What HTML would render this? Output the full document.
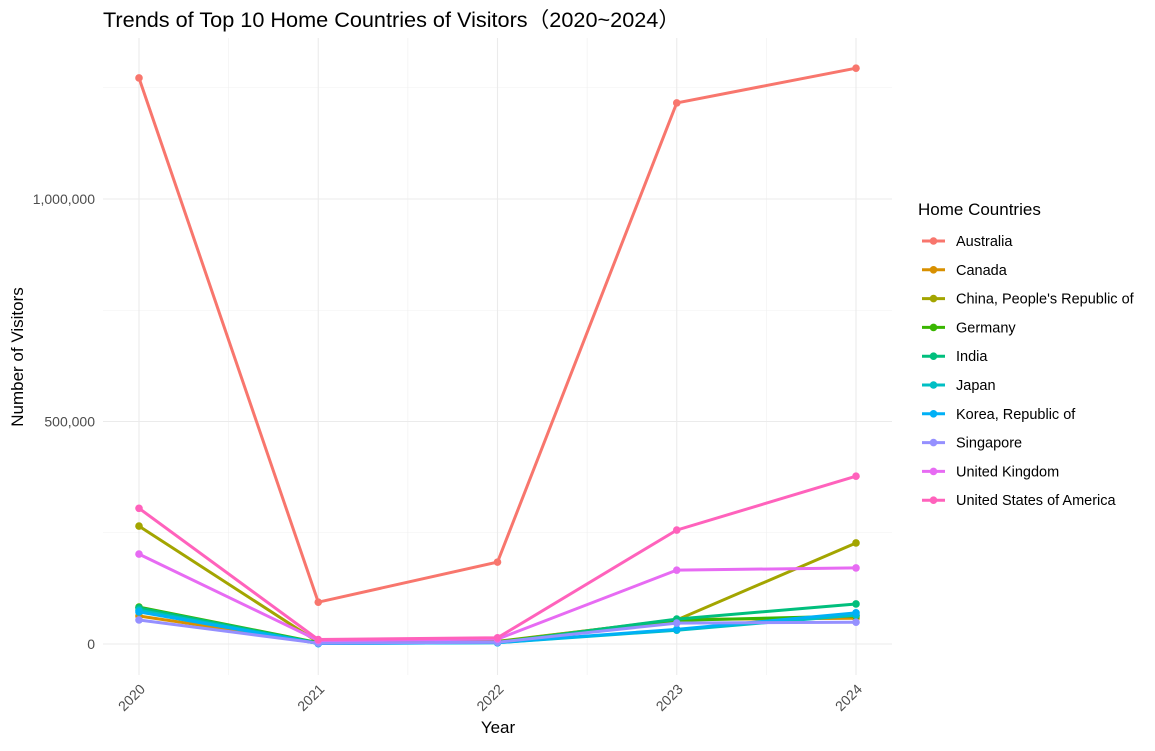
<!DOCTYPE html>
<html><head><meta charset="utf-8"><style>
body{margin:0;background:#fff;font-family:"Liberation Sans","Noto Sans CJK SC",sans-serif}
</style></head><body>
<svg id="chart" width="1155" height="746" xmlns="http://www.w3.org/2000/svg" font-family="Liberation Sans, Noto Sans CJK SC, sans-serif">
<text x="103" y="27" font-size="21" fill="#000" textLength="577" lengthAdjust="spacingAndGlyphs">Trends of Top 10 Home Countries of Visitors（2020~2024）</text>
<g id="grid"></g><g id="axes"></g><g id="series"></g><g id="legend"></g>
<text x="498" y="733" font-size="17" text-anchor="middle">Year</text>
<text transform="translate(23,357) rotate(-90)" font-size="17" text-anchor="middle">Number of Visitors</text>
</svg>
<script>
const years=[2020,2021,2022,2023,2024];
const countries=["Australia","Canada","China, People's Republic of","Germany","India","Japan","Korea, Republic of","Singapore","United Kingdom","United States of America"];
const colors=["#F8766D","#D89000","#A3A500","#39B600","#00BF7D","#00BFC4","#00B0F6","#9590FF","#E76BF3","#FF62BC"];
const australia=[1272000,94000,184000,1216000,1294000];
const canada=[63000,3000,5000,55000,58000];
const china=[265000,4000,6000,54000,227000];
const germany=[83000,3000,5000,53000,63000];
const india=[81000,2000,3000,56000,90000];
const japan=[76000,1000,3000,31000,65000];
const korea=[72000,1000,3000,33000,70000];
const singapore=[54000,2000,4000,47000,49000];
const uk=[202000,8000,11000,166000,171000];
const usa=[305000,10000,14000,256000,377000];
const values=[australia,canada,china,germany,india,japan,korea,singapore,uk,usa];
const yTicks=[0,500000,1000000];
const yTickLabels=["0","500,000","1,000,000"];
const NS="http://www.w3.org/2000/svg";
const x=v=>139+(v-2020)*(856-139)/4;
const y=v=>644-v*(644-199)/1000000;
function mk(tag,attrs,parent){const e=document.createElementNS(NS,tag);for(const k in attrs)e.setAttribute(k,attrs[k]);parent.appendChild(e);return e;}
const grid=document.getElementById('grid'),axes=document.getElementById('axes'),ser=document.getElementById('series'),leg=document.getElementById('legend');
for(let i=0;i<4;i++){const l=mk('line',{x1:x(2020.5+i),x2:x(2020.5+i),y1:38,y2:675,stroke:'#f0f0f0','stroke-width':0.6},grid);

}
[250000,750000,1250000].forEach(v=>{const l=mk('line',{x1:103,x2:892,y1:y(v),y2:y(v),stroke:'#f0f0f0','stroke-width':0.6},grid);

});
years.forEach(yr=>{const l=mk('line',{x1:x(yr),x2:x(yr),y1:38,y2:675,stroke:'#ebebeb','stroke-width':1.1},grid);


const t=mk('text',{transform:`translate(${x(yr)+7},${690}) rotate(-45)`,'font-size':14,fill:'#4d4d4d','text-anchor':'end'},axes);t.textContent=yr;

});
yTicks.forEach((v,i)=>{const l=mk('line',{x1:103,x2:892,y1:y(v),y2:y(v),stroke:'#ebebeb','stroke-width':1.1},grid);


const t=mk('text',{x:95,y:y(v)+5,'font-size':14,fill:'#4d4d4d','text-anchor':'end'},axes);t.textContent=yTickLabels[i];

});
values.forEach((vals,i)=>{const g=mk('g',{},ser);


mk('polyline',{points:vals.map((v,j)=>x(years[j])+','+y(v)).join(' '),fill:'none',stroke:colors[i],'stroke-width':3},g);
vals.forEach((v,j)=>{const c=mk('circle',{cx:x(years[j]),cy:y(v),r:3.8,fill:colors[i]},g);

});});
const lt=mk('text',{x:918,y:215,'font-size':17,fill:'#000'},leg);lt.textContent='Home Countries';


countries.forEach((c,i)=>{const yy=241+i*28.8;const g=mk('g',{},leg);


mk('line',{x1:922,x2:945,y1:yy,y2:yy,stroke:colors[i],'stroke-width':3},g);
mk('circle',{cx:933.5,cy:yy,r:3.8,fill:colors[i]},g);
const t=mk('text',{x:956,y:yy+5,'font-size':14.5,fill:'#000'},g);t.textContent=c;});
</script>
</body></html>
